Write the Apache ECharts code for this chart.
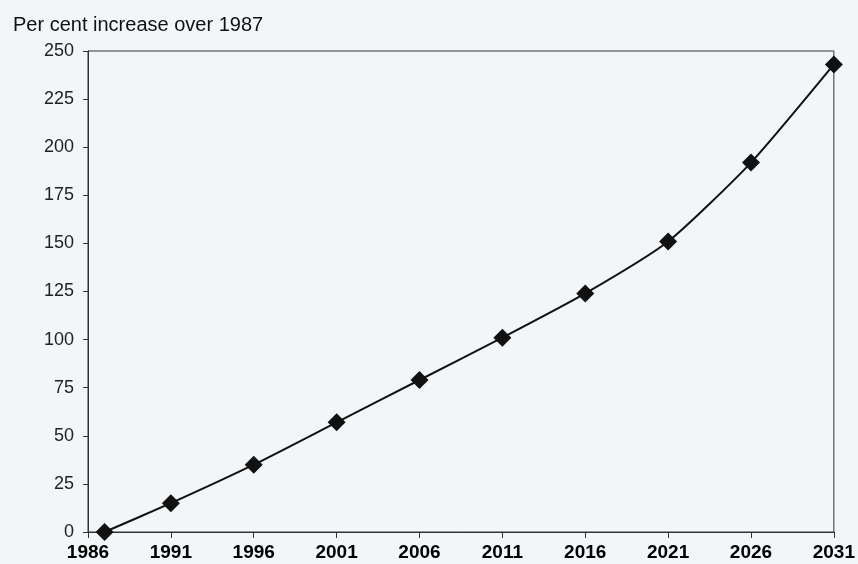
<!DOCTYPE html>
<html>
<head>
<meta charset="utf-8">
<script src="https://cdn.jsdelivr.net/npm/echarts@6/dist/echarts.min.js"></script>
<style>
  html, body { margin: 0; padding: 0; background: #f3f6f8; }
  #chart { width: 858px; height: 564px; }
</style>
</head>
<body>
<div id="chart"></div>
<script>
// Years of observation / projection
const years = [1987, 1991, 1996, 2001, 2006, 2011, 2016, 2021, 2026, 2031];
// Per cent increase over 1987
const increase = [0, 15, 35, 57, 79, 101, 124, 151, 192, 243];
// Axis settings
const xMin = 1986, xMax = 2031, xStep = 5;
const yMin = 0, yMax = 250, yStep = 25;

const chart = echarts.init(document.getElementById('chart'), null, { renderer: 'canvas' });
chart.setOption({
  backgroundColor: '#f3f6f8',
  animation: false,
  title: {
    text: 'Per cent increase over 1987',
    left: 8, top: 10,
    textStyle: { fontFamily: 'Liberation Sans, Arial', fontSize: 20, fontWeight: 'normal', color: '#111' }
  },
  grid: {
    left: 88, right: 24, top: 51, bottom: 32,
    show: true, borderColor: '#333', borderWidth: 1, backgroundColor: 'transparent'
  },
  xAxis: {
    type: 'value', min: xMin, max: xMax, interval: xStep,
    axisLine: { lineStyle: { color: '#333' } },
    axisTick: { length: 6, lineStyle: { color: '#333' } },
    splitLine: { show: false },
    axisLabel: {
      color: '#000', fontFamily: 'Liberation Sans, Arial', fontSize: 19, fontWeight: 'bold', margin: 11,
      formatter: v => String(v)
    }
  },
  yAxis: {
    type: 'value', min: yMin, max: yMax, interval: yStep,
    axisLine: { show: true, lineStyle: { color: '#333' } },
    axisTick: { show: true, length: 5, lineStyle: { color: '#333' } },
    splitLine: { show: false },
    axisLabel: { color: '#222', fontFamily: 'Liberation Sans, Arial', fontSize: 18, margin: 14 }
  },
  series: [{
    type: 'line',
    data: years.map((y, i) => [y, increase[i]]),
    smooth: 0.2,
    symbol: 'diamond',
    symbolSize: 18,
    itemStyle: { color: '#111' },
    lineStyle: { color: '#111', width: 2 }
  }]
});
</script>
</body>
</html>
